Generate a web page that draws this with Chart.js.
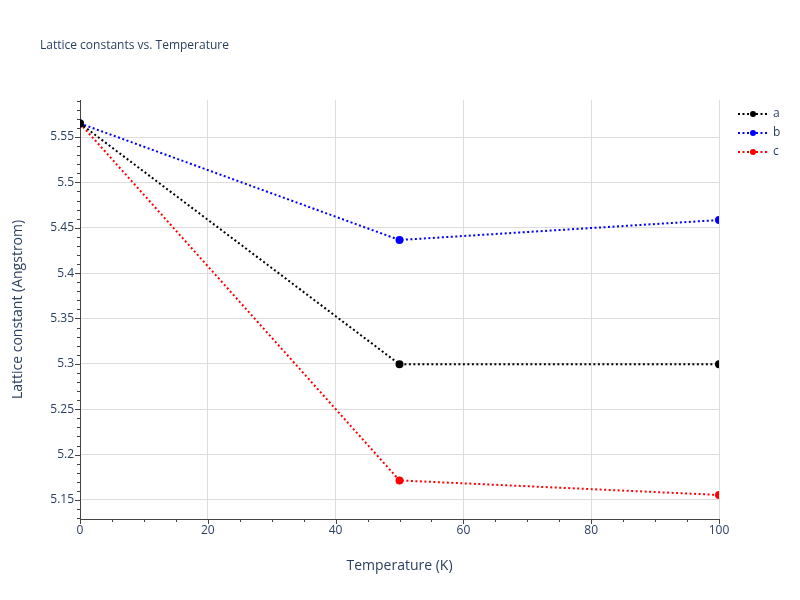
<!DOCTYPE html>
<html>
<head>
<meta charset="utf-8">
<script src="https://cdn.jsdelivr.net/npm/chart.js@4"></script>
<style>
  body { margin: 0; background: #fff; }
  #wrap { width: 800px; height: 600px; }
</style>
</head>
<body>
<div id="wrap"><canvas id="chart"></canvas></div>
<script>
const temperatures = [0, 50, 100];
const latticeA = [5.565, 5.2995, 5.2995];
const latticeB = [5.565, 5.4365, 5.4585];
const latticeC = [5.565, 5.1715, 5.1555];
const seriesNames = ['a', 'b', 'c'];
const seriesColors = ['#000000', '#0000ff', '#ff0000'];

const font = '"Open Sans", Verdana, Arial, sans-serif';
const textColor = '#2a3f5f';

function makeSet(label, values, color) {
    return {
        label: label,
        data: temperatures.map((t, i) => ({ x: t, y: values[i] })),
        borderColor: color,
        backgroundColor: color,
        borderWidth: 2,
        borderDash: [2, 2.5],
        pointRadius: 3,
        pointHoverRadius: 3,
        tension: 0
    };
}

// Title, legend and minor ticks drawn by hand
const extras = {
    id: 'extras',
    afterDraw(chart) {
        const ctx = chart.ctx;
        const x = chart.scales.x, y = chart.scales.y;
        ctx.save();
        ctx.strokeStyle = '#444';
        ctx.lineWidth = 1;
        ctx.beginPath();
        for (let v = 0; v <= 100; v += 5) {
            const px = Math.round(x.getPixelForValue(v)) + 0.5;
            const len = v % 20 === 0 ? 5 : 3;
            ctx.moveTo(px, y.bottom); ctx.lineTo(px, y.bottom + len);
        }
        for (let k = 513; k <= 559; k++) {
            const v = k / 100;
            const py = Math.round(y.getPixelForValue(v)) + 0.5;
            const len = k % 5 === 0 ? 5 : 3;
            ctx.moveTo(x.left, py); ctx.lineTo(x.left - len, py);
        }
        ctx.stroke();

        ctx.fillStyle = textColor;
        ctx.font = '12px ' + font;
        ctx.textBaseline = 'middle';
        ctx.fillText('Lattice constants vs. Temperature', 40, 46);

        seriesNames.forEach((name, i) => {
            const ly = 114 + i * 19;
            ctx.strokeStyle = seriesColors[i];
            ctx.fillStyle = seriesColors[i];
            ctx.lineWidth = 2;
            ctx.setLineDash([2, 2.5]);
            ctx.beginPath();
            ctx.moveTo(738, ly); ctx.lineTo(768, ly);
            ctx.stroke();
            ctx.setLineDash([]);
            ctx.beginPath();
            ctx.arc(753, ly, 3, 0, Math.PI * 2);
            ctx.fill();
            ctx.fillStyle = textColor;
            ctx.fillText(name, 773, ly);
        });
        ctx.restore();
    }
};

new Chart(document.getElementById('chart'), {
    type: 'line',
    data: {
        datasets: [
            makeSet(seriesNames[0], latticeA, seriesColors[0]),
            makeSet(seriesNames[1], latticeB, seriesColors[1]),
            makeSet(seriesNames[2], latticeC, seriesColors[2])
        ]
    },
    options: {
        responsive: true,
        maintainAspectRatio: false,
        animation: false,
        layout: { padding: { top: 100, right: 81, left: 6, bottom: 26 } },
        plugins: { legend: { display: false }, tooltip: { enabled: false } },
        scales: {
            x: {
                type: 'linear',
                min: 0, max: 100,
                ticks: { stepSize: 20, color: textColor, font: { family: font, size: 12 }, padding: 4 },
                grid: {
                    color: ctx => ctx.tick && ctx.tick.value === 0 ? 'rgba(0,0,0,0)' : '#dddddd',
                    drawTicks: false
                },
                border: { color: '#444', width: 1 },
                title: { display: true, text: 'Temperature (K)', color: textColor, font: { family: font, size: 14 }, padding: 0 },
                afterFit: s => { s.height = 55; }
            },
            y: {
                min: 5.129, max: 5.5908,
                ticks: {
                    stepSize: 0.05, color: textColor, font: { family: font, size: 12 }, padding: 6,
                    callback: v => Number(v.toFixed(2)).toString()
                },
                afterBuildTicks: s => {
                    s.ticks = [];
                    for (let k = 103; k <= 111; k++) s.ticks.push({ value: k * 0.05 });
                },
                grid: { color: '#dddddd', drawTicks: false },
                border: { color: '#444', width: 1 },
                title: { display: true, text: 'Lattice constant (Angstrom)', color: textColor, font: { family: font, size: 14 } },
                afterFit: s => { s.width = 74; }
            }
        }
    },
    plugins: [extras]
});
</script>
</body>
</html>
